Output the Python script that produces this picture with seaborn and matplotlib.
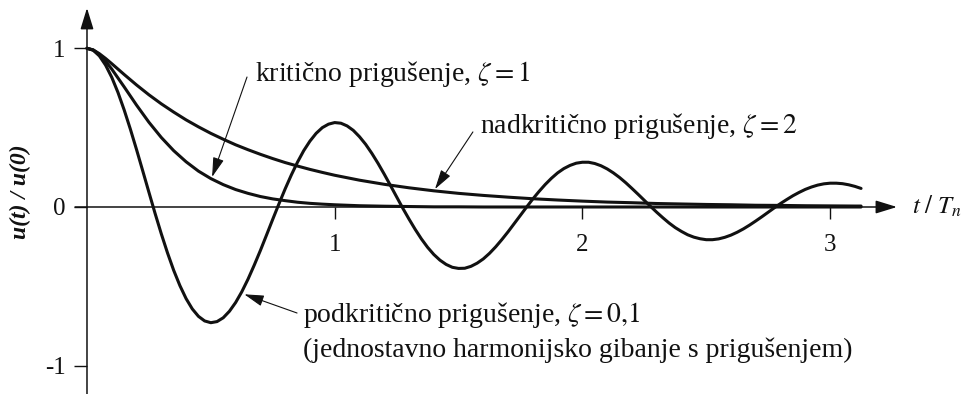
import matplotlib
matplotlib.use("Agg")
import matplotlib.pyplot as plt
import seaborn as sns
import pandas as pd

# ---- data ----
t_under = [0.000, 0.025, 0.050, 0.075, 0.100, 0.125, 0.150, 0.175, 0.200, 0.225,
           0.250, 0.275, 0.300, 0.325, 0.350, 0.375, 0.400, 0.425, 0.450, 0.475,
           0.500, 0.525, 0.550, 0.575, 0.600, 0.625, 0.650, 0.675, 0.700, 0.725,
           0.750, 0.775, 0.800, 0.825, 0.850, 0.875, 0.900, 0.925, 0.950, 0.975,
           1.000, 1.025, 1.050, 1.075, 1.100, 1.125, 1.150, 1.175, 1.200, 1.225,
           1.250, 1.275, 1.300, 1.325, 1.350, 1.375, 1.400, 1.425, 1.450, 1.475,
           1.500, 1.525, 1.550, 1.575, 1.600, 1.625, 1.650, 1.675, 1.700, 1.725,
           1.750, 1.775, 1.800, 1.825, 1.850, 1.875, 1.900, 1.925, 1.950, 1.975,
           2.000, 2.025, 2.050, 2.075, 2.100, 2.125, 2.150, 2.175, 2.200, 2.225,
           2.250, 2.275, 2.300, 2.325, 2.350, 2.375, 2.400, 2.425, 2.450, 2.475,
           2.500, 2.525, 2.550, 2.575, 2.600, 2.625, 2.650, 2.675, 2.700, 2.725,
           2.750, 2.775, 2.800, 2.825, 2.850, 2.875, 2.900, 2.925, 2.950, 2.975,
           3.000, 3.025, 3.050, 3.075, 3.100, 3.125]
u_under = [1.000, 0.988, 0.952, 0.894, 0.817, 0.722, 0.612, 0.491, 0.362, 0.228,
           0.093, -0.041, -0.169, -0.289, -0.399, -0.495, -0.577, -0.642, -0.689, -0.718,
           -0.729, -0.722, -0.698, -0.657, -0.602, -0.534, -0.455, -0.367, -0.274, -0.176,
           -0.077, 0.020, 0.114, 0.202, 0.283, 0.355, 0.415, 0.464, 0.500, 0.522,
           0.532, 0.528, 0.511, 0.483, 0.443, 0.395, 0.338, 0.275, 0.207, 0.136,
           0.064, -0.008, -0.076, -0.141, -0.201, -0.254, -0.299, -0.335, -0.362, -0.380,
           -0.387, -0.386, -0.374, -0.354, -0.327, -0.292, -0.251, -0.205, -0.156, -0.104,
           -0.052, 0.000, 0.051, 0.098, 0.142, 0.181, 0.215, 0.242, 0.262, 0.276,
           0.282, 0.282, 0.274, 0.260, 0.240, 0.215, 0.186, 0.153, 0.117, 0.080,
           0.042, 0.004, -0.033, -0.068, -0.101, -0.130, -0.154, -0.175, -0.190, -0.200,
           -0.206, -0.206, -0.201, -0.191, -0.177, -0.159, -0.138, -0.114, -0.088, -0.061,
           -0.033, -0.005, 0.022, 0.047, 0.071, 0.092, 0.111, 0.126, 0.138, 0.146,
           0.150, 0.150, 0.147, 0.140, 0.130, 0.117]

t_mono = [0.000, 0.025, 0.050, 0.075, 0.100, 0.150, 0.200, 0.250, 0.300, 0.350,
          0.400, 0.450, 0.500, 0.550, 0.600, 0.650, 0.700, 0.750, 0.800, 0.850,
          0.900, 0.950, 1.000, 1.100, 1.200, 1.300, 1.400, 1.500, 1.600, 1.700,
          1.800, 1.900, 2.000, 2.100, 2.200, 2.300, 2.400, 2.500, 2.600, 2.700,
          2.800, 2.900, 3.000, 3.100, 3.125]
u_crit = [1.000, 0.989, 0.960, 0.918, 0.869, 0.757, 0.642, 0.534, 0.438, 0.355,
          0.285, 0.226, 0.179, 0.141, 0.110, 0.086, 0.066, 0.051, 0.040, 0.030,
          0.023, 0.018, 0.014, 0.008, 0.005, 0.003, 0.001, 0.001, 0.000, 0.000,
          0.000, 0.000, 0.000, 0.000, 0.000, 0.000, 0.000, 0.000, 0.000, 0.000,
          0.000, 0.000, 0.000, 0.000, 0.000]
u_over = [1.000, 0.990, 0.966, 0.936, 0.903, 0.835, 0.769, 0.707, 0.650, 0.598,
          0.549, 0.505, 0.464, 0.427, 0.392, 0.361, 0.332, 0.305, 0.280, 0.258,
          0.237, 0.218, 0.200, 0.169, 0.143, 0.121, 0.102, 0.086, 0.073, 0.062,
          0.052, 0.044, 0.037, 0.031, 0.027, 0.022, 0.019, 0.016, 0.014, 0.011,
          0.010, 0.008, 0.007, 0.006, 0.006]

x_ticks = [1, 2, 3]
x_tick_labels = ["1", "2", "3"]
y_ticks = [-1, 0, 1]
y_tick_labels = ["-1", "0", "1"]

label_crit = "kritično prigušenje, $\\zeta = 1$"
label_over = "nadkritično prigušenje, $\\zeta = 2$"
label_under = "podkritično prigušenje, $\\zeta = 0{,}1$"
label_under2 = "(jednostavno harmonijsko gibanje s prigušenjem)"

# ---- style ----
sns.set_theme(style="white")
plt.rcParams["font.family"] = ["Liberation Serif", "DejaVu Serif"]
plt.rcParams["mathtext.fontset"] = "stix"

INK = "#111111"

fig = plt.figure(figsize=(9.64, 3.94), dpi=100)
ax = fig.add_axes([0, 0, 1, 1])
ax.set_facecolor("white")

df_under = pd.DataFrame({"t": t_under, "u": u_under})
df_crit = pd.DataFrame({"t": t_mono, "u": u_crit})
df_over = pd.DataFrame({"t": t_mono, "u": u_over})
for d in (df_over, df_crit, df_under):
    sns.lineplot(data=d, x="t", y="u", ax=ax, color=INK, lw=2.2,
                 estimator=None, sort=False, zorder=3)

ax.set_xlim(-0.3512, 3.5406)
ax.set_ylim(-1.1783, 1.3043)
ax.set_xlabel("")
ax.set_ylabel("")

# axes through origin
for side in ("top", "right"):
    ax.spines[side].set_visible(False)
ax.spines["left"].set_position(("data", 0))
ax.spines["bottom"].set_position(("data", 0))
ax.spines["left"].set_visible(False)
ax.spines["bottom"].set_visible(False)

ax.set_xticks(x_ticks)
ax.set_xticklabels(x_tick_labels)
ax.set_yticks(y_ticks)
ax.set_yticklabels(y_tick_labels)
ax.tick_params(axis="x", bottom=True, direction="out", length=8.6, width=1.0,
               pad=11, labelsize=18, colors=INK)
ax.tick_params(axis="y", left=True, direction="out", length=9.4, width=1.0,
               pad=6, labelsize=18, colors=INK)

axis_arrow = dict(arrowstyle="-|>,head_length=0.65,head_width=0.2",
                  lw=1.1, color=INK, mutation_scale=20, shrinkA=0, shrinkB=0)
ax.annotate("", xy=(3.27, 0), xytext=(-0.048, 0), arrowprops=axis_arrow, zorder=2)
ax.annotate("", xy=(0, 1.254), xytext=(0, -1.19), arrowprops=axis_arrow, zorder=2)

# axis labels
ax.text(3.33, -0.04, "$t\\ /\\ T_n$", fontsize=18, ha="left", va="baseline", color=INK)
ax.text(-0.268, 0.095, "u(t) / u(0)", fontsize=17, style="italic", weight="bold",
        rotation=90, ha="center", va="center", color=INK)

# annotations
note_arrow = dict(arrowstyle="-|>,head_length=0.6,head_width=0.17",
                  lw=0.8, color=INK, mutation_scale=20, shrinkA=0, shrinkB=0)
ax.annotate("", xy=(0.505, 0.189), xytext=(0.646, 0.819), arrowprops=note_arrow)
ax.annotate("", xy=(1.405, 0.113), xytext=(1.558, 0.473), arrowprops=note_arrow)
ax.annotate("", xy=(0.635, -0.55), xytext=(0.848, -0.668), arrowprops=note_arrow)

ax.text(0.678, 0.796, label_crit, fontsize=20, ha="left", va="baseline", color=INK)
ax.text(1.587, 0.466, label_over, fontsize=20, ha="left", va="baseline", color=INK)
ax.text(0.872, -0.723, label_under, fontsize=20, ha="left", va="baseline", color=INK)
ax.text(0.872, -0.945, label_under2, fontsize=20, ha="left", va="baseline", color=INK)

fig.savefig("out.png", dpi=100, facecolor="white")
